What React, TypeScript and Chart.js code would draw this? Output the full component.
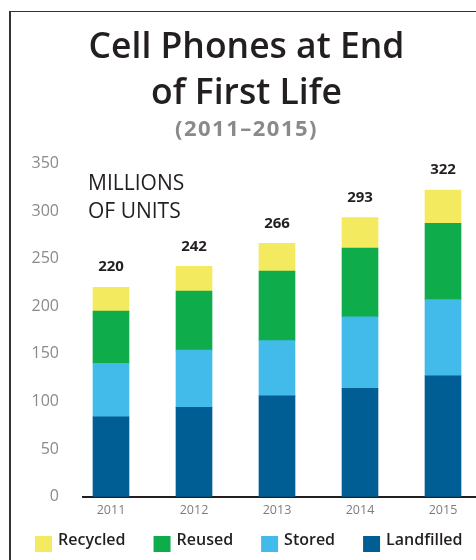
import React, { useEffect, useRef } from 'react';
import { Chart, registerables } from 'chart.js';

Chart.register(...registerables);

// ---- data ----
const years = ['2011', '2012', '2013', '2014', '2015'];
const landfilled = [84, 94, 106, 114, 127];
const stored = [56, 60, 58, 75, 80];
const reused = [55, 62, 73, 72, 80];
const recycled = [25, 26, 29, 32, 35];
const totals = [220, 242, 266, 293, 322];
const yTickValues = [0, 50, 100, 150, 200, 250, 300, 350];
const unitLines = ['MILLIONS', 'OF UNITS'];
const unitLineValues = [328, 299];

const FONT = '"Open Sans", Lato, sans-serif';
const DARK = '#231f20';
const GRAY = '#8a8a8a';

const overlayPlugin = {
  id: 'overlayText',
  afterLayout(chart: any) {
    // give the subtitle slightly wider tracking, like the original typeface
    const sub = chart.boxes.find((b: any) => b && b.options && b.options.text === '(2011\u20132015)');
    if (sub && !sub.__tracked) {
      const orig = sub.draw.bind(sub);
      sub.draw = (...args: any[]) => {
        const c = chart.ctx;
        c.save();
        (c as any).letterSpacing = '1.5px';
        orig(...args);
        c.restore();
      };
      sub.__tracked = true;
    }
  },
  afterDatasetsDraw(chart: any) {
    const { ctx, chartArea, scales } = chart;
    const x = scales.x;
    const y = scales.y;
    ctx.save();
    ctx.fillStyle = DARK;
    ctx.font = `bold 15px ${FONT}`;
    ctx.textAlign = 'center';
    ctx.textBaseline = 'middle';
    totals.forEach((t, i) => {
      const stackTop = y.getPixelForValue(landfilled[i] + stored[i] + reused[i] + recycled[i]);
      ctx.fillText(String(t), x.getPixelForValue(i), stackTop - 20);
    });
    ctx.font = `21px ${FONT}`;
    ctx.textAlign = 'left';
    unitLines.forEach((line, i) => {
      ctx.fillText(line, chartArea.left + 5, y.getPixelForValue(unitLineValues[i]));
    });
    ctx.restore();
  },
  afterDraw(chart: any) {
    // legend row (reversed dataset order: top of stack first)
    const { ctx } = chart;
    const items = chart.data.datasets.slice().reverse();
    ctx.save();
    ctx.font = `600 16px ${FONT}`;
    ctx.textAlign = 'left';
    ctx.textBaseline = 'middle';
    let cx = 35;
    const boxTop = 536;
    items.forEach((ds: any) => {
      ctx.fillStyle = ds.backgroundColor;
      ctx.fillRect(cx, boxTop, 17, 16);
      ctx.fillStyle = DARK;
      const tx = cx + 23;
      ctx.fillText(ds.label, tx, boxTop + 4.5);
      cx = tx + ctx.measureText(ds.label).width + 28;
    });
    ctx.restore();
  },
};

export default function App() {
  const canvasRef = useRef<HTMLCanvasElement | null>(null);

  useEffect(() => {
    const canvas = canvasRef.current;
    if (!canvas) return;
    const toPoints = (arr: number[]) => arr.map((v, i) => ({ x: i, y: v }));
    const chart = new Chart(canvas, {
      type: 'bar',
      data: {
        datasets: [
          { label: 'Landfilled', data: toPoints(landfilled), backgroundColor: '#005e94' },
          { label: 'Stored', data: toPoints(stored), backgroundColor: '#43bbea' },
          { label: 'Reused', data: toPoints(reused), backgroundColor: '#0eac4b' },
          { label: 'Recycled', data: toPoints(recycled), backgroundColor: '#f3ea5f' },
        ] as any,
      },
      options: {
        responsive: false,
        animation: false,
        devicePixelRatio: 1,
        datasets: { bar: { barThickness: 36 } } as any,
        layout: { padding: { left: 17, right: 0, top: 0, bottom: 36.2 } },
        scales: {
          x: {
            type: 'linear',
            stacked: true,
            offset: false,
            min: -0.3373,
            max: 4.3976,
            grid: { display: false, drawTicks: false, offset: false },
            border: { display: true, color: DARK, width: 2 },
            afterBuildTicks: (scale: any) => {
              scale.ticks = years.map((_, i) => ({ value: i }));
            },
            ticks: {
              autoSkip: false,
              maxRotation: 0,
              padding: 6,
              color: '#7d7d7d',
              font: { family: FONT, size: 12.5, weight: '500' },
              callback: (v: any) => years[v] ?? '',
            },
          } as any,
          y: {
            stacked: true,
            min: 0,
            max: 350,
            grid: { display: false, drawTicks: false },
            border: { display: false },
            afterBuildTicks: (scale: any) => {
              scale.ticks = yTickValues.map((v) => ({ value: v }));
            },
            afterFit: (scale: any) => {
              scale.width = 66;
            },
            ticks: {
              padding: 24,
              color: GRAY,
              font: { family: FONT, size: 16, weight: '500' },
            },
          },
        },
        plugins: {
          title: {
            display: true,
            text: ['Cell Phones at End', 'of First Life'],
            color: DARK,
            font: { family: FONT, size: 35.5, weight: '600', lineHeight: 46 / 35.5 },
            padding: { top: 24.8, bottom: 0 },
          },
          subtitle: {
            display: true,
            text: '(2011\u20132015)',
            color: GRAY,
            font: { family: FONT, size: 22, weight: 'bold', lineHeight: 1.2 },
            padding: { top: 0, bottom: 20.2 },
          },
          legend: { display: false },
          tooltip: { enabled: false },
        },
      },
      plugins: [overlayPlugin],
    });
    return () => chart.destroy();
  }, []);

  return (
    <div style={{ position: 'absolute', left: 0, top: 0, width: 476, height: 560, overflow: 'hidden', background: '#fff' }}>
      <canvas ref={canvasRef} width={476} height={560} style={{ display: 'block', width: 476, height: 560 }} />
      <div
        style={{
          position: 'absolute',
          left: 9,
          top: 11,
          width: 467,
          height: 549,
          borderLeft: '2px solid #333',
          borderTop: '1.5px solid #333',
          boxSizing: 'border-box',
          pointerEvents: 'none',
        }}
      />
    </div>
  );
}
